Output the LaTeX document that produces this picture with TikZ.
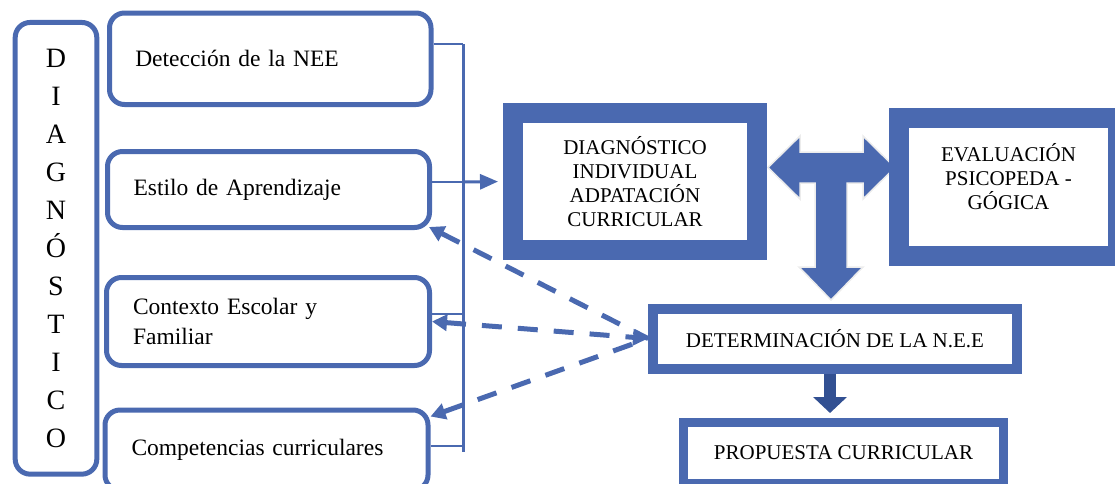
\documentclass[tikz,border=0pt]{standalone}
\usepackage{fontspec}
\setmainfont{Liberation Serif}
\usetikzlibrary{arrows.meta}
\definecolor{nblue}{RGB}{74,105,176}
\definecolor{nbluedark}{RGB}{50,80,146}
\tikzset{
  colbox/.style={draw=nblue, line width=5pt, rounded corners=15pt, align=center,
    minimum width=81.6pt, minimum height=451.7pt, font=\fontsize{28}{38}\selectfont},
  roundbox/.style={draw=nblue, line width=5pt, rounded corners=15pt, align=left,
    text width=270pt, inner xsep=25pt, font=\fontsize{23.5}{30}\selectfont},
  framebox/.style={draw=nblue, fill=white, align=center, font=\fontsize{21}{24}\selectfont},
  boxtext/.style={align=center, font=\fontsize{21}{24}\selectfont},
  linkline/.style={draw=nblue, line width=1.5pt},
  dasharrow/.style={draw=nblue, line width=5pt, dash pattern=on 20pt off 16pt},
  dashtip/.tip={Triangle[length=15pt,width=16pt]},
}
\begin{document}
\begin{tikzpicture}[x=1pt, y=-1pt]
  \useasboundingbox (0,0) rectangle (1115,483);
  \clip (0,0) rectangle (1115,483);
  % left column
  \node[colbox] (diagcol) at (56,248.3) {D\\I\\A\\G\\N\\Ó\\S\\T\\I\\C\\O};
  \node[roundbox, minimum width=321.5pt, minimum height=91.5pt] (deteccion) at (270.25,58.75) {Detección de la NEE};
  \node[roundbox, minimum width=322pt, minimum height=76pt] (estilo) at (268.5,189.5) {Estilo de Aprendizaje};
  \node[roundbox, minimum width=323pt, minimum height=88pt] (contexto) at (268,321.5) {Contexto Escolar y\\Familiar};
  \node[roundbox, minimum width=323pt, minimum height=80pt] (competencias) at (266.5,450) {Competencias curriculares};
  % bracket
  \coordinate (btop) at (463,44);
  \coordinate (bmid) at (463,182);
  \coordinate (bthree) at (463,314);
  \coordinate (bfour) at (463,446);
  \coordinate (bend) at (463,452);
  \draw[nblue, line width=3pt] (btop) -- (bend);
  \draw[linkline] (deteccion.east |- btop) -- (btop);
  \draw[linkline] (estilo.east |- bmid) -- (bmid);
  \draw[linkline] (contexto.east |- bthree) -- (bthree);
  \draw[linkline] (competencias.east |- bfour) -- (bfour);
  % three-way arrow
  \filldraw[fill=nblue, draw=white!85!gray, line width=1.5pt]
    (768,167.5) -- (800,136) -- (800,152) -- (863,152) -- (863,136) -- (895,167.5)
    -- (863,199) -- (863,183) -- (847,183) -- (847,267) -- (863,267) -- (831,300)
    -- (799,267) -- (815,267) -- (815,183) -- (800,183) -- (800,199) -- cycle;
  % right boxes
  \node[framebox, line width=20pt, minimum width=244pt, minimum height=137pt] (diagind) at (635,181.5)
    {DIAGNÓSTICO\\INDIVIDUAL\\ADPATACIÓN\\CURRICULAR};
  \node[framebox, line width=20pt, minimum width=219pt, minimum height=137.5pt] (eval) at (1008.5,186.75) {};
  \node[boxtext] (evaltext) at ([yshift=10pt]eval.center) {EVALUACIÓN\\PSICOPEDA -\\GÓGICA};
  \node[framebox, line width=10pt, minimum width=364pt, minimum height=60pt] (det) at (835,338.5)
    {DETERMINACIÓN DE LA N.E.E};
  \node[framebox, line width=9pt, minimum width=320pt, minimum height=61pt] (prop) at (843.5,453)
    {PROPUESTA CURRICULAR};
  % arrows
  \draw[nblue, line width=3pt, -{Triangle[length=18pt,width=15pt]}, shorten >=5pt] (bmid) -- (diagind.west);
  \draw[nbluedark, line width=12pt, -{Triangle[length=16pt,width=33pt]}, shorten >=5pt]
    ([xshift=-5pt]det.south) -- ([xshift=-5pt]det.south |- prop.north);
  \draw[dasharrow, dashtip-] ([shift={(-3pt,3pt)}]estilo.south east) -- (det.west);
  \draw[dasharrow, dashtip-dashtip] (contexto.east) -- (det.west);
  \draw[dasharrow, dashtip-] ([yshift=-9pt]competencias.north east) -- (det.west);
\end{tikzpicture}
\end{document}
